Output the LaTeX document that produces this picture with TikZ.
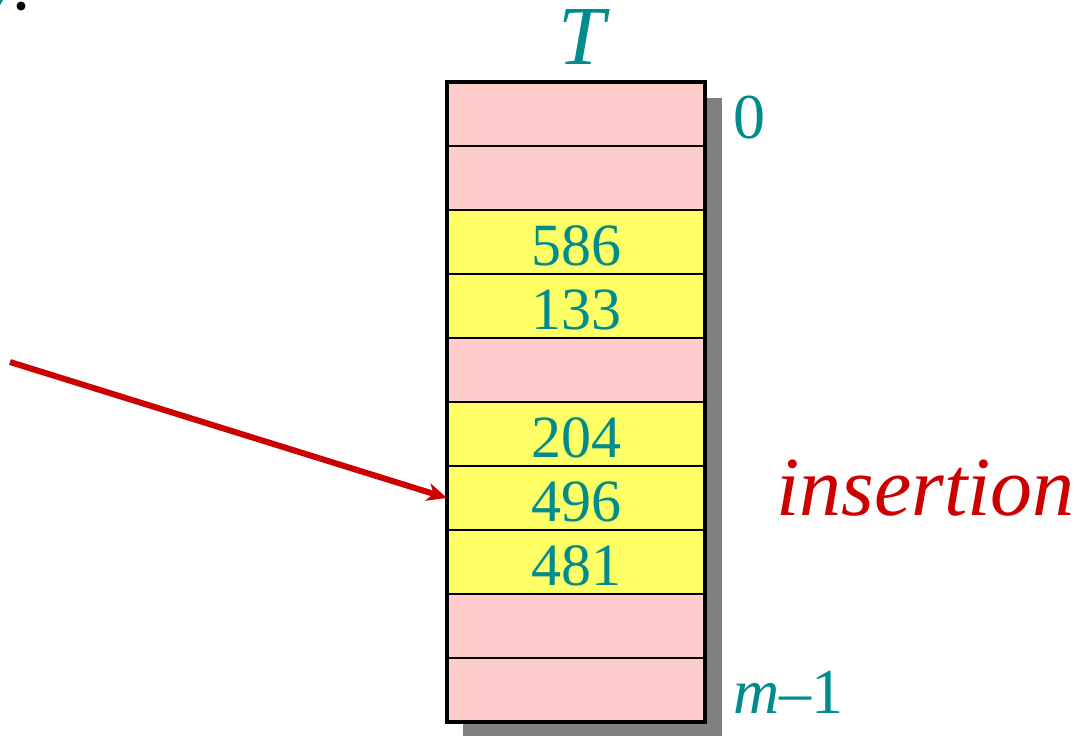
\documentclass[tikz,border=0pt]{standalone}
\usepackage{fontspec}
\setmainfont{Liberation Serif}
\usetikzlibrary{arrows.meta}
\definecolor{pinkc}{HTML}{FFCCCC}
\definecolor{yellc}{HTML}{FFFF66}
\definecolor{tealc}{HTML}{008C8C}
\definecolor{redc}{HTML}{CC0000}
\definecolor{shadc}{HTML}{808080}
\tikzset{
  cell/.style={minimum width=258pt, minimum height=64pt, inner sep=0pt, outer sep=0pt, draw=black, line width=2pt},
  pinkcell/.style={cell, fill=pinkc},
  yellcell/.style={cell, fill=yellc},
  num/.style={text=tealc, font=\fontsize{60}{70}\selectfont, inner sep=0pt, anchor=base},
  idx/.style={text=tealc, font=\fontsize{64}{72}\selectfont, inner sep=0pt, anchor=base west},
  ptr/.style={draw=redc, line width=6pt, -{Stealth[length=20pt,width=18pt,inset=6pt]}}
}
\begin{document}
\begin{tikzpicture}[x=1pt,y=-1pt]
\useasboundingbox (0,0) rectangle (1090,736);
% fragments at top-left corner
\fill[tealc] (0,0) -- (3,0) -- (0,5) -- cycle;
\fill[black] (21,6) circle (4.5);
% shadow
\fill[shadc] (463,98) rectangle (722,740);
% rows
\node[pinkcell] (r0) at (576,114) {};
\node[pinkcell] (r1) at (576,178) {};
\node[yellcell] (r2) at (576,242) {};
\node[yellcell] (r3) at (576,306) {};
\node[pinkcell] (r4) at (576,370) {};
\node[yellcell] (r5) at (576,434) {};
\node[yellcell] (r6) at (576,498) {};
\node[yellcell] (r7) at (576,562) {};
\node[pinkcell] (r8) at (576,626) {};
\node[pinkcell] (r9) at (576,690) {};
% outer border
\draw[line width=4pt] (r0.north west) rectangle (r9.south east);
% values
\node[num] (v2) at (576,265) {586};
\node[num] (v3) at (576,329) {133};
\node[num] (v5) at (576,457) {204};
\node[num] (v6) at (576,521) {496};
\node[num] (v7) at (576,585) {481};
% labels
\node[text=tealc, font=\fontsize{84}{90}\selectfont\itshape, inner sep=0pt, anchor=base] (tlab) at (582,64) {T};
\node[idx] (i0) at (733,138) {0};
\node[idx] (im) at (733,713) {\textit{m}–1};
\node[text=redc, font=\fontsize{84}{90}\selectfont\itshape, inner sep=0pt, anchor=base west] (ins) at (776,515) {insertion};
% arrow
\coordinate (src) at (10,362);
\draw[ptr] (src) -- (r6.west);
\end{tikzpicture}
\end{document}
